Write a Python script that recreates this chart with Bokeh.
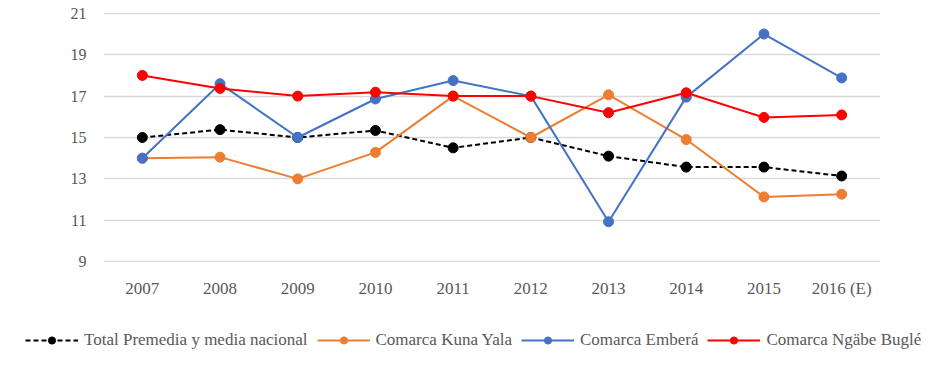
from bokeh.plotting import figure
from bokeh.models import Range1d, FactorRange, Legend, LegendItem, ColumnDataSource
from bokeh.embed import file_html
from bokeh.resources import INLINE

years = ["2007", "2008", "2009", "2010", "2011", "2012", "2013", "2014", "2015", "2016 (E)"]
total_nacional = [15.0, 15.38, 15.0, 15.34, 14.5, 15.0, 14.1, 13.57, 13.57, 13.14]
kuna_yala = [14.0, 14.05, 13.0, 14.28, 17.0, 15.0, 17.06, 14.9, 12.13, 12.26]
embera = [14.0, 17.6, 15.0, 16.86, 17.75, 17.0, 10.93, 16.95, 20.0, 17.88]
ngabe_bugle = [18.0, 17.37, 17.0, 17.19, 17.0, 17.0, 16.2, 17.16, 15.97, 16.09]
y_ticks = [9, 11, 13, 15, 17, 19, 21]

FONT = "Liberation Serif"
GRAY = "#595959"

p = figure(width=933, height=300, x_range=FactorRange(*years, range_padding=0),
           y_range=Range1d(8.96, 21.04), output_backend="svg", toolbar_location=None,
           min_border_left=103, min_border_right=53, min_border_top=12, min_border_bottom=36)
p.outline_line_color = None
p.xgrid.grid_line_color = None
p.ygrid.grid_line_color = "#d9d9d9"
p.ygrid.grid_line_width = 1.3
p.yaxis.ticker = y_ticks
for ax in (p.xaxis[0], p.yaxis[0]):
    ax.axis_line_color = None
    ax.major_tick_line_color = None
    ax.minor_tick_line_color = None
    ax.major_label_text_font = FONT
    ax.major_label_text_color = GRAY
p.xaxis.major_label_text_font_size = "17px"
p.yaxis.major_label_text_font_size = "16px"
p.xaxis.major_label_standoff = 10
p.yaxis.major_label_standoff = 11

series = [
    ("Total Premedia y media nacional", total_nacional, "black", "5 3"),
    ("Comarca Kuna Yala", kuna_yala, "#ED7D31", "solid"),
    ("Comarca Emberá", embera, "#4472C4", "solid"),
    ("Comarca Ngäbe Buglé", ngabe_bugle, "#FF0000", "solid"),
]

# legend-only figure: same data, viewed through a range where no mark is visible
lg = figure(width=933, height=84, x_range=FactorRange(*years), y_range=Range1d(100, 101),
            x_axis_type=None, y_axis_type=None,
            output_backend="svg", toolbar_location=None,
            min_border_left=0, min_border_right=0, min_border_top=0, min_border_bottom=0)
lg.outline_line_color = None
lg.grid.visible = False

items = []
for name, vals, color, dash in series:
    src = ColumnDataSource(dict(x=years, y=vals))
    p.line("x", "y", source=src, line_color=color, line_width=2, line_dash=dash)
    p.scatter("x", "y", source=src, size=10, fill_color=color, line_color=color)
    src2 = ColumnDataSource(dict(x=years, y=vals))
    l = lg.line("x", "y", source=src2, line_color=color, line_width=2, line_dash=dash)
    s = lg.scatter("x", "y", source=src2, size=10, fill_color=color, line_color=color)
    items.append(LegendItem(label=name, renderers=[l, s]))

legend = Legend(items=items, orientation="horizontal", location=(25, 34),
                label_text_font=FONT, label_text_font_size="17px", label_text_color=GRAY,
                glyph_width=53, glyph_height=18, label_standoff=6, spacing=9,
                border_line_color=None, background_fill_alpha=0, padding=0, margin=0)
lg.add_layout(legend, "center")

open("out.html", "w").write(file_html([p, lg], INLINE))
